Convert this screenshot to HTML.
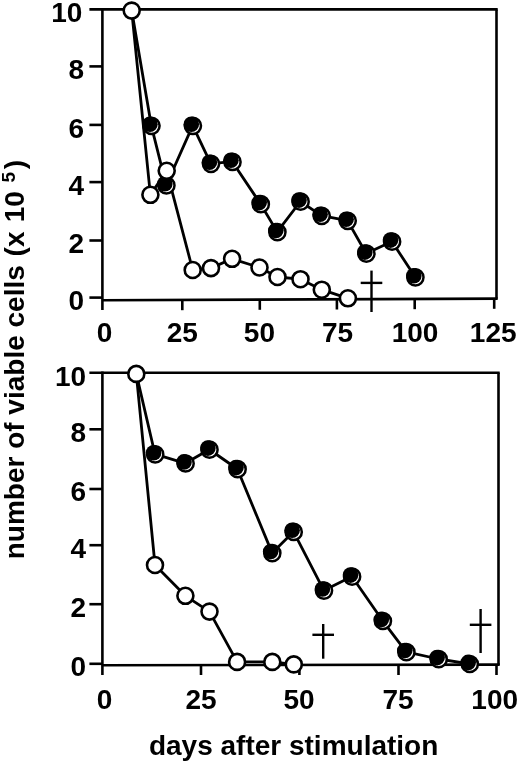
<!DOCTYPE html>
<html><head><meta charset="utf-8"><title>Figure</title>
<style>
html,body{margin:0;padding:0;background:#fff;}
svg{display:block;}
text{font-family:"Liberation Sans",Arial,Helvetica,sans-serif;font-weight:bold;fill:#000;}
</style></head><body>
<svg width="520" height="762" viewBox="0 0 520 762">
<rect x="0" y="0" width="520" height="762" fill="#fff"/>
<line x1="102.4" y1="8.2" x2="102.4" y2="310.1" stroke="#000" stroke-width="2.6"/>
<line x1="89.4" y1="9.4" x2="497.7" y2="9.4" stroke="#000" stroke-width="2.6"/>
<line x1="496.5" y1="9.4" x2="496.5" y2="298.7" stroke="#000" stroke-width="2.6"/>
<line x1="102.4" y1="300.3" x2="497.7" y2="298.6" stroke="#000" stroke-width="2.6"/>
<line x1="89.4" y1="66.4" x2="102.4" y2="66.4" stroke="#000" stroke-width="2.6"/>
<line x1="89.4" y1="124.9" x2="102.4" y2="124.9" stroke="#000" stroke-width="2.6"/>
<line x1="89.4" y1="182.1" x2="102.4" y2="182.1" stroke="#000" stroke-width="2.6"/>
<line x1="89.4" y1="240.5" x2="102.4" y2="240.5" stroke="#000" stroke-width="2.6"/>
<line x1="89.4" y1="297.6" x2="102.4" y2="297.6" stroke="#000" stroke-width="2.6"/>
<line x1="182.3" y1="300.0" x2="182.3" y2="310.2" stroke="#000" stroke-width="2.6"/>
<line x1="259.8" y1="299.6" x2="259.8" y2="309.8" stroke="#000" stroke-width="2.6"/>
<line x1="336.9" y1="299.3" x2="336.9" y2="309.5" stroke="#000" stroke-width="2.6"/>
<line x1="414.7" y1="299.0" x2="414.7" y2="309.2" stroke="#000" stroke-width="2.6"/>
<line x1="494.2" y1="298.6" x2="494.2" y2="308.8" stroke="#000" stroke-width="2.6"/>
<text x="82.4" y="22.2" font-size="28" text-anchor="end" >10</text>
<text x="84.2" y="79.3" font-size="28" text-anchor="end" >8</text>
<text x="84.2" y="137.5" font-size="28" text-anchor="end" >6</text>
<text x="84.2" y="194.8" font-size="28" text-anchor="end" >4</text>
<text x="84.2" y="252.8" font-size="28" text-anchor="end" >2</text>
<text x="84.2" y="309.9" font-size="28" text-anchor="end" >0</text>
<text x="104.6" y="342.4" font-size="28" text-anchor="middle" >0</text>
<text x="182.3" y="342.4" font-size="28" text-anchor="middle" >25</text>
<text x="259.4" y="342.4" font-size="28" text-anchor="middle" >50</text>
<text x="337.5" y="342.4" font-size="28" text-anchor="middle" >75</text>
<text x="415.0" y="342.4" font-size="28" text-anchor="middle" >100</text>
<text x="493.2" y="342.4" font-size="28" text-anchor="middle" >125</text>
<line x1="102.4" y1="371.6" x2="102.4" y2="675.0" stroke="#000" stroke-width="2.6"/>
<line x1="89.4" y1="372.8" x2="499.7" y2="372.8" stroke="#000" stroke-width="2.6"/>
<line x1="498.5" y1="372.8" x2="498.5" y2="665.0" stroke="#000" stroke-width="2.6"/>
<line x1="102.4" y1="665.2" x2="499.7" y2="664.6" stroke="#000" stroke-width="2.6"/>
<line x1="89.4" y1="429.3" x2="102.4" y2="429.3" stroke="#000" stroke-width="2.6"/>
<line x1="89.4" y1="489.0" x2="102.4" y2="489.0" stroke="#000" stroke-width="2.6"/>
<line x1="89.4" y1="545.2" x2="102.4" y2="545.2" stroke="#000" stroke-width="2.6"/>
<line x1="89.4" y1="604.2" x2="102.4" y2="604.2" stroke="#000" stroke-width="2.6"/>
<line x1="89.4" y1="663.8" x2="102.4" y2="663.8" stroke="#000" stroke-width="2.6"/>
<line x1="201.0" y1="665.0" x2="201.0" y2="675.0" stroke="#000" stroke-width="2.6"/>
<line x1="299.4" y1="665.0" x2="299.4" y2="675.0" stroke="#000" stroke-width="2.6"/>
<line x1="398.5" y1="665.0" x2="398.5" y2="675.0" stroke="#000" stroke-width="2.6"/>
<line x1="496.5" y1="665.0" x2="496.5" y2="675.0" stroke="#000" stroke-width="2.6"/>
<text x="86.1" y="385.6" font-size="28" text-anchor="end" >10</text>
<text x="86.1" y="441.8" font-size="28" text-anchor="end" >8</text>
<text x="86.1" y="500.8" font-size="28" text-anchor="end" >6</text>
<text x="86.1" y="558.3" font-size="28" text-anchor="end" >4</text>
<text x="86.1" y="617.3" font-size="28" text-anchor="end" >2</text>
<text x="86.1" y="675.6" font-size="28" text-anchor="end" >0</text>
<text x="104.5" y="708.6" font-size="28" text-anchor="middle" >0</text>
<text x="201.0" y="708.6" font-size="28" text-anchor="middle" >25</text>
<text x="299.0" y="708.6" font-size="28" text-anchor="middle" >50</text>
<text x="398.0" y="708.6" font-size="28" text-anchor="middle" >75</text>
<text x="494.7" y="708.6" font-size="28" text-anchor="middle" >100</text>
<polyline fill="none" stroke="#000" stroke-width="2.8" stroke-linejoin="round" points="131.7,10.6 150.4,194.8 166.7,170.8 192.7,270.0 211.0,268.1 232.1,258.8 259.5,267.5 277.5,277.0 300.5,279.2 321.8,289.7 347.9,298.3"/>
<polyline fill="none" stroke="#000" stroke-width="2.8" stroke-linejoin="round" points="131.7,10.6 151.3,125.6 166.2,185.2 192.7,125.6 210.8,163.6 232.3,161.7 260.6,204.0 277.2,231.9 300.4,201.5 321.5,215.6 347.5,220.6 366.2,253.5 391.9,241.5 415.2,277.1"/>
<polyline fill="none" stroke="#000" stroke-width="2.8" stroke-linejoin="round" points="136.3,373.9 155.0,565.0 185.4,595.8 209.5,611.6 237.1,661.9 272.3,661.9 293.8,664.4"/>
<polyline fill="none" stroke="#000" stroke-width="2.8" stroke-linejoin="round" points="136.3,373.9 155.0,454.2 185.4,463.3 209.3,449.5 237.4,469.0 272.1,552.9 293.5,531.7 323.8,590.4 351.9,576.5 382.7,620.8 406.2,651.9 438.5,659.0 469.6,663.8"/>
<circle cx="151.5" cy="125.8" r="8.1" fill="#fff" stroke="#000" stroke-width="2.5"/><circle cx="149.9" cy="124.2" r="7.8" fill="#000"/>
<circle cx="166.4" cy="185.4" r="8.1" fill="#fff" stroke="#000" stroke-width="2.5"/><circle cx="164.8" cy="183.8" r="7.8" fill="#000"/>
<circle cx="192.9" cy="125.8" r="8.1" fill="#fff" stroke="#000" stroke-width="2.5"/><circle cx="191.3" cy="124.2" r="7.8" fill="#000"/>
<circle cx="211.0" cy="163.8" r="8.1" fill="#fff" stroke="#000" stroke-width="2.5"/><circle cx="209.4" cy="162.2" r="7.8" fill="#000"/>
<circle cx="232.5" cy="161.9" r="8.1" fill="#fff" stroke="#000" stroke-width="2.5"/><circle cx="230.9" cy="160.3" r="7.8" fill="#000"/>
<circle cx="260.8" cy="204.2" r="8.1" fill="#fff" stroke="#000" stroke-width="2.5"/><circle cx="259.2" cy="202.6" r="7.8" fill="#000"/>
<circle cx="277.4" cy="232.1" r="8.1" fill="#fff" stroke="#000" stroke-width="2.5"/><circle cx="275.8" cy="230.5" r="7.8" fill="#000"/>
<circle cx="300.6" cy="201.7" r="8.1" fill="#fff" stroke="#000" stroke-width="2.5"/><circle cx="299.0" cy="200.1" r="7.8" fill="#000"/>
<circle cx="321.7" cy="215.8" r="8.1" fill="#fff" stroke="#000" stroke-width="2.5"/><circle cx="320.1" cy="214.2" r="7.8" fill="#000"/>
<circle cx="347.7" cy="220.8" r="8.1" fill="#fff" stroke="#000" stroke-width="2.5"/><circle cx="346.1" cy="219.2" r="7.8" fill="#000"/>
<circle cx="366.4" cy="253.7" r="8.1" fill="#fff" stroke="#000" stroke-width="2.5"/><circle cx="364.8" cy="252.1" r="7.8" fill="#000"/>
<circle cx="392.1" cy="241.7" r="8.1" fill="#fff" stroke="#000" stroke-width="2.5"/><circle cx="390.5" cy="240.1" r="7.8" fill="#000"/>
<circle cx="415.4" cy="277.3" r="8.1" fill="#fff" stroke="#000" stroke-width="2.5"/><circle cx="413.8" cy="275.7" r="7.8" fill="#000"/>
<circle cx="131.7" cy="10.6" r="8.0" fill="#fff" stroke="#000" stroke-width="2.6"/>
<circle cx="150.4" cy="194.8" r="8.0" fill="#fff" stroke="#000" stroke-width="2.6"/>
<circle cx="166.7" cy="170.8" r="8.0" fill="#fff" stroke="#000" stroke-width="2.6"/>
<circle cx="192.7" cy="270.0" r="8.0" fill="#fff" stroke="#000" stroke-width="2.6"/>
<circle cx="211.0" cy="268.1" r="8.0" fill="#fff" stroke="#000" stroke-width="2.6"/>
<circle cx="232.1" cy="258.8" r="8.0" fill="#fff" stroke="#000" stroke-width="2.6"/>
<circle cx="259.5" cy="267.5" r="8.0" fill="#fff" stroke="#000" stroke-width="2.6"/>
<circle cx="277.5" cy="277.0" r="8.0" fill="#fff" stroke="#000" stroke-width="2.6"/>
<circle cx="300.5" cy="279.2" r="8.0" fill="#fff" stroke="#000" stroke-width="2.6"/>
<circle cx="321.8" cy="289.7" r="8.0" fill="#fff" stroke="#000" stroke-width="2.6"/>
<circle cx="347.9" cy="298.3" r="8.0" fill="#fff" stroke="#000" stroke-width="2.6"/>
<circle cx="155.2" cy="454.4" r="8.1" fill="#fff" stroke="#000" stroke-width="2.5"/><circle cx="153.6" cy="452.8" r="7.8" fill="#000"/>
<circle cx="185.6" cy="463.5" r="8.1" fill="#fff" stroke="#000" stroke-width="2.5"/><circle cx="184.0" cy="461.9" r="7.8" fill="#000"/>
<circle cx="209.5" cy="449.7" r="8.1" fill="#fff" stroke="#000" stroke-width="2.5"/><circle cx="207.9" cy="448.1" r="7.8" fill="#000"/>
<circle cx="237.6" cy="469.2" r="8.1" fill="#fff" stroke="#000" stroke-width="2.5"/><circle cx="236.0" cy="467.6" r="7.8" fill="#000"/>
<circle cx="272.3" cy="553.1" r="8.1" fill="#fff" stroke="#000" stroke-width="2.5"/><circle cx="270.7" cy="551.5" r="7.8" fill="#000"/>
<circle cx="293.7" cy="531.9" r="8.1" fill="#fff" stroke="#000" stroke-width="2.5"/><circle cx="292.1" cy="530.3" r="7.8" fill="#000"/>
<circle cx="324.0" cy="590.6" r="8.1" fill="#fff" stroke="#000" stroke-width="2.5"/><circle cx="322.4" cy="589.0" r="7.8" fill="#000"/>
<circle cx="352.1" cy="576.7" r="8.1" fill="#fff" stroke="#000" stroke-width="2.5"/><circle cx="350.5" cy="575.1" r="7.8" fill="#000"/>
<circle cx="382.9" cy="621.0" r="8.1" fill="#fff" stroke="#000" stroke-width="2.5"/><circle cx="381.3" cy="619.4" r="7.8" fill="#000"/>
<circle cx="406.4" cy="652.1" r="8.1" fill="#fff" stroke="#000" stroke-width="2.5"/><circle cx="404.8" cy="650.5" r="7.8" fill="#000"/>
<circle cx="438.7" cy="659.2" r="8.1" fill="#fff" stroke="#000" stroke-width="2.5"/><circle cx="437.1" cy="657.6" r="7.8" fill="#000"/>
<circle cx="469.8" cy="664.0" r="8.1" fill="#fff" stroke="#000" stroke-width="2.5"/><circle cx="468.2" cy="662.4" r="7.8" fill="#000"/>
<circle cx="136.3" cy="373.9" r="8.0" fill="#fff" stroke="#000" stroke-width="2.6"/>
<circle cx="155.0" cy="565.0" r="8.0" fill="#fff" stroke="#000" stroke-width="2.6"/>
<circle cx="185.4" cy="595.8" r="8.0" fill="#fff" stroke="#000" stroke-width="2.6"/>
<circle cx="209.5" cy="611.6" r="8.0" fill="#fff" stroke="#000" stroke-width="2.6"/>
<circle cx="237.1" cy="661.9" r="8.0" fill="#fff" stroke="#000" stroke-width="2.6"/>
<circle cx="272.3" cy="661.9" r="8.0" fill="#fff" stroke="#000" stroke-width="2.6"/>
<circle cx="293.8" cy="664.4" r="8.0" fill="#fff" stroke="#000" stroke-width="2.6"/>
<line x1="371.5" y1="270.6" x2="371.5" y2="312.0" stroke="#000" stroke-width="2.4"/><line x1="360.7" y1="282.9" x2="382.3" y2="282.9" stroke="#000" stroke-width="2.4"/>
<line x1="323.2" y1="624.0" x2="323.2" y2="658.7" stroke="#000" stroke-width="2.4"/><line x1="312.4" y1="634.8" x2="334.0" y2="634.8" stroke="#000" stroke-width="2.4"/>
<line x1="480.6" y1="609.0" x2="480.6" y2="653.0" stroke="#000" stroke-width="2.4"/><line x1="469.8" y1="624.8" x2="491.4" y2="624.8" stroke="#000" stroke-width="2.4"/>
<text x="293.6" y="755.2" font-size="28" text-anchor="middle" >days after stimulation</text>
<text transform="translate(24.3,559.3) rotate(-90)" font-size="28">number of viable cells<tspan dx="1"> (x</tspan><tspan dx="1.5"> 10</tspan><tspan dx="8.5" dy="-9" font-size="19">5</tspan><tspan dy="9" dx="2.8">)</tspan></text>
</svg>
</body></html>
